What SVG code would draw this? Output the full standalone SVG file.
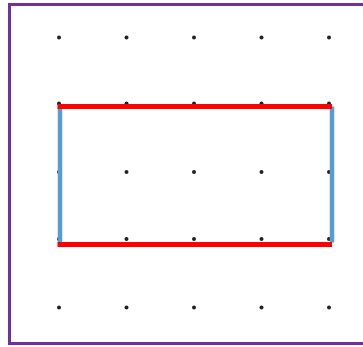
<svg xmlns="http://www.w3.org/2000/svg" width="363" height="347" viewBox="0 0 363 347">
<defs>
<style>
.dot{fill:#222;}
.red{stroke:#FF0000;stroke-width:5;fill:none;}
.blue{stroke:#5B9BD5;stroke-width:4.5;fill:none;}
</style>
</defs>
<rect x="0" y="0" width="363" height="347" fill="#fff"/>
<rect id="frame" x="9.5" y="4.5" width="365" height="339" fill="none" stroke="#7030A0" stroke-width="3"/>
<g id="dots">
<circle class="dot" cx="59" cy="37.5" r="2"/><circle class="dot" cx="126.5" cy="37.5" r="2"/><circle class="dot" cx="194" cy="37.5" r="2"/><circle class="dot" cx="261.5" cy="37.5" r="2"/><circle class="dot" cx="329" cy="37.5" r="2"/>
<circle class="dot" cx="59" cy="103.5" r="2"/><circle class="dot" cx="126.5" cy="103.5" r="2"/><circle class="dot" cx="194" cy="103.5" r="2"/><circle class="dot" cx="261.5" cy="103.5" r="2"/><circle class="dot" cx="329" cy="103.5" r="2"/>
<circle class="dot" cx="59" cy="172" r="2"/><circle class="dot" cx="126.5" cy="172" r="2"/><circle class="dot" cx="194" cy="172" r="2"/><circle class="dot" cx="261.5" cy="172" r="2"/><circle class="dot" cx="329" cy="172" r="2"/>
<circle class="dot" cx="59" cy="239" r="2"/><circle class="dot" cx="126.5" cy="239" r="2"/><circle class="dot" cx="194" cy="239" r="2"/><circle class="dot" cx="261.5" cy="239" r="2"/><circle class="dot" cx="329" cy="239" r="2"/>
<circle class="dot" cx="59" cy="307.5" r="2"/><circle class="dot" cx="126.5" cy="307.5" r="2"/><circle class="dot" cx="194" cy="307.5" r="2"/><circle class="dot" cx="261.5" cy="307.5" r="2"/><circle class="dot" cx="329" cy="307.5" r="2"/>
</g>
<g id="rectangle">
<line class="blue" x1="60" y1="106.5" x2="60" y2="242.5"/>
<line class="blue" x1="332" y1="106.5" x2="332" y2="242.5"/>
<line class="red" x1="57.5" y1="106.5" x2="332" y2="106.5"/>
<line class="red" x1="57.5" y1="244.5" x2="332" y2="244.5"/>
</g>
</svg>
